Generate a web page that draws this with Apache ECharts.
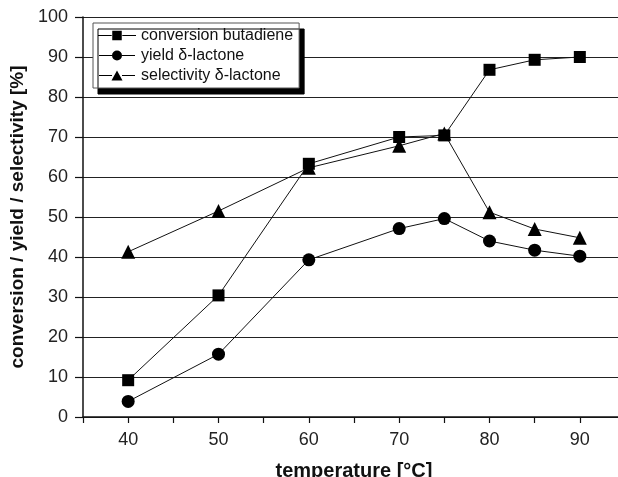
<!DOCTYPE html>
<html><head><meta charset="utf-8">
<script src="https://cdn.jsdelivr.net/npm/echarts@6/dist/echarts.min.js"></script>
<style>html,body{margin:0;padding:0;background:#fff;overflow:hidden}#c{width:618px;height:477px}</style>
</head><body><div id="c"></div>
<script>
const temperatures = [40, 50, 60, 70, 75, 80, 85, 90];
const conversionButadiene = [9.2, 30.4, 63.3, 70.0, 70.4, 86.8, 89.3, 90.0];
const yieldLactone = [3.9, 15.7, 39.3, 47.1, 49.6, 44.0, 41.7, 40.2];
const selectivityLactone = [41.3, 51.5, 62.3, 67.8, 70.9, 51.2, 47.0, 44.8];
const seriesNames = ['conversion butadiene', 'yield \u03b4-lactone', 'selectivity \u03b4-lactone'];

const pair = (ys) => temperatures.map((t, i) => [t, ys[i]]);
const font = 'Liberation Sans, Arial, sans-serif';
const chart = echarts.init(document.getElementById('c'));
const iconSq = 'path://M0,4.5H13V5.5H0Z M13.5,0.5H22.5V9.5H13.5Z M23,4.5H36V5.5H23Z';
const iconCi = 'path://M0,4.5H13V5.5H0Z M13,5A5,5 0 1 0 23,5A5,5 0 1 0 13,5Z M23,4.5H36V5.5H23Z';
const iconTr = 'path://M0,4.5H13V5.5H0Z M18,0L23.5,10H12.5Z M23,4.5H36V5.5H23Z';
chart.setOption({
  animation: false,
  grid: { left: 83, top: 17, width: 542, height: 400, outerBoundsMode: 'none', containLabel: false },
  legend: {
    left: 93, top: 23, orient: 'vertical', itemGap: 3,
    itemWidth: 38, itemHeight: 10,
    padding: [4, 6, 4, 5],
    backgroundColor: '#fff', borderColor: '#555', borderWidth: 1,
    shadowColor: '#000', shadowBlur: 0, shadowOffsetX: 5, shadowOffsetY: 6,
    textStyle: { fontFamily: font, fontSize: 16, color: '#111', lineHeight: 17 },
    data: [
      { name: seriesNames[0], icon: iconSq },
      { name: seriesNames[1], icon: iconCi },
      { name: seriesNames[2], icon: iconTr }
    ]
  },
  xAxis: {
    type: 'value', min: 35, max: 95, interval: 5,
    name: 'temperature [°C]', nameLocation: 'middle', nameGap: 44,
    nameTextStyle: { fontFamily: font, fontSize: 20, fontWeight: 'bold', color: '#111' },
    axisLine: { lineStyle: { color: '#111', width: 1.5 } },
    axisTick: { length: 6, lineStyle: { color: '#111', width: 1.2 } },
    axisLabel: { margin: 14, fontFamily: font, fontSize: 18, color: '#222',
      formatter: v => (v % 10 === 0 && v >= 40 && v <= 90) ? String(v) : '' },
    splitLine: { show: false }
  },
  yAxis: {
    type: 'value', min: 0, max: 100, interval: 10,
    name: 'conversion / yield / selectivity [%]', nameLocation: 'middle', nameGap: 51,
    nameTextStyle: { fontFamily: font, fontSize: 19, fontWeight: 'bold', color: '#111' },
    axisLine: { show: true, lineStyle: { color: '#111', width: 1.5 } },
    axisTick: { show: true, length: 8, lineStyle: { color: '#111', width: 1.2 } },
    axisLabel: { margin: 15, fontFamily: font, fontSize: 18, color: '#222' },
    splitLine: { show: true, lineStyle: { color: '#222', width: 1.2 } }
  },
  series: [
    { name: seriesNames[0], type: 'line', data: pair(conversionButadiene), symbol: 'rect', symbolSize: 12,
      itemStyle: { color: '#000' }, lineStyle: { color: '#111', width: 1 } },
    { name: seriesNames[1], type: 'line', data: pair(yieldLactone), symbol: 'circle', symbolSize: 13,
      itemStyle: { color: '#000' }, lineStyle: { color: '#111', width: 1 } },
    { name: seriesNames[2], type: 'line', data: pair(selectivityLactone), symbol: 'triangle', symbolSize: 14,
      itemStyle: { color: '#000' }, lineStyle: { color: '#111', width: 1 } }
  ]
});
</script></body></html>
